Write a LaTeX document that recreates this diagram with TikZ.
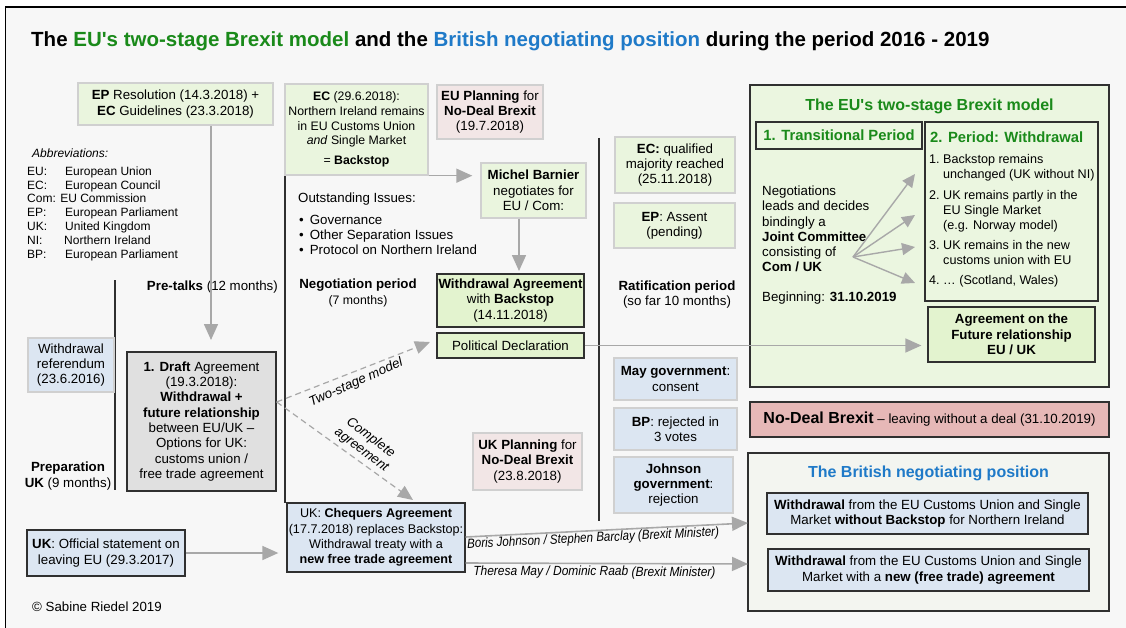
\documentclass[tikz,border=0pt]{standalone}
\usepackage{fontspec}
\setmainfont{Liberation Sans}
\usepackage{graphicx}
\usetikzlibrary{arrows.meta,calc}
\definecolor{bg}{HTML}{F7F7F7}
\definecolor{lgreen}{HTML}{EAF5DE}
\definecolor{mgreen}{HTML}{E3F3CF}
\definecolor{eugreen}{HTML}{EBF6E0}
\definecolor{lborder}{HTML}{D0D0D0}
\definecolor{dborder}{HTML}{303030}
\definecolor{lpink}{HTML}{F2E6E6}
\definecolor{nodeal}{HTML}{E6B8B7}
\definecolor{lblue}{HTML}{DCE6F2}
\definecolor{draftgray}{HTML}{E0E0E0}
\definecolor{tgreen}{HTML}{1A8A1A}
\definecolor{tblue}{HTML}{1F7AC8}
\definecolor{agray}{HTML}{A8A8A8}
\definecolor{ukbg}{HTML}{F3F5F0}
\newcommand{\bodyf}{\fontsize{13.3}{15.3}\selectfont}
\newcommand{\smallf}{\fontsize{12.3}{14.8}\selectfont}
\newcommand{\abbf}{\fontsize{12}{13.8}\selectfont}
\tikzset{
  base/.style={font=\bodyf, align=center, inner sep=0pt},
  lbox/.style={base, draw=lborder, line width=1.4pt},
  dbox/.style={base, draw=dborder, line width=1.3pt},
  arr/.style={draw=agray, line width=1.6pt, -{Triangle[length=16pt,width=14pt]}},
  arrs/.style={draw=agray, line width=1.4pt, -{Triangle[length=13pt,width=12pt]}},
  darr/.style={draw=agray, line width=1.2pt, dash pattern=on 6pt off 4pt, -{Triangle[length=15pt,width=13pt]}},
  sepline/.style={draw=dborder, line width=1.4pt},
  plain/.style={font=\bodyf, inner sep=0pt},
}
\begin{document}
\begin{tikzpicture}[x=1pt,y=-1pt]
\useasboundingbox (0,0) rectangle (1126,628);
\fill[white] (0,0) rectangle (1126,628);
\begin{scope}
\clip (0,0) rectangle (1126,628);
\draw[line width=1.5pt, fill=bg] (5.5,7) rectangle (1140,640);
\end{scope}

% title
\node[anchor=base west, inner sep=0pt, font=\fontsize{20.5}{24}\selectfont\bfseries] (title) at (31,47)
  {The \textcolor{tgreen}{EU\textquotesingle s two-stage Brexit model} and the \textcolor{tblue}{British negotiating position} during the period 2016 - 2019};

% separators
\draw[sepline] (115,280) -- (115,490);
\draw[sepline] (285,175) -- (285,503);
\draw[sepline] (599,138) -- (599,521);

% left column
\node[lbox, fill=lgreen, minimum width=195pt, minimum height=42pt] (epres) at (175.5,104)
  {\textbf{EP} Resolution (14.3.2018) +\\\textbf{EC} Guidelines (23.3.2018)};
\node[plain, anchor=west, font=\abbf\itshape] (abbt) at (32,153) {Abbreviations:};
\node[plain, anchor=west, font=\abbf, align=left] (abbl) at (27,213.5)
  {\makebox[38pt][l]{EU:}European Union\\
   \makebox[38pt][l]{EC:}European Council\\
   Com: EU Commission\\
   \makebox[38pt][l]{EP:}European Parliament\\
   \makebox[38pt][l]{UK:}United Kingdom\\
   \makebox[37pt][l]{NI:}Northern Ireland\\
   \makebox[38pt][l]{BP:}European Parliament};
\node[plain, anchor=base east] (pretalks) at (278,290) {\textbf{Pre-talks} (12 months)};
\node[lbox, fill=lblue, minimum width=86pt, minimum height=54pt] (ref) at (71,365)
  {Withdrawal\\referendum\\(23.6.2016)};
\node[dbox, fill=draftgray, minimum width=149pt, minimum height=139pt] (draft) at (201.5,421.5)
  {\textbf{1. Draft} Agreement\\(19.3.2018):\\\textbf{Withdrawal +}\\\textbf{future relationship}\\between EU/UK –\\Options for UK:\\customs union /\\free trade agreement};
\node[base] (prep) at (68,476) {\textbf{Preparation}\\\textbf{UK} (9 months)};
\node[dbox, fill=lblue, minimum width=158pt, minimum height=46pt] (ukstate) at (106,553)
  {\textbf{UK}: Official statement on\\leaving EU (29.3.2017)};
\node[plain, anchor=west] (copy) at (32,607) {© Sabine Riedel 2019};

% negotiation column
\node[lbox, fill=lgreen, minimum width=143pt, minimum height=91pt, font=\smallf] (ec) at (356.5,129.5)
  {\textbf{EC} (29.6.2018):\\Northern Ireland remains\\in EU Customs Union\\\textit{and} Single Market\\[5pt]= \textbf{Backstop}};
\node[lbox, fill=lpink, minimum width=106pt, minimum height=54pt] (euplan) at (490,112)
  {\textbf{EU Planning} for\\\textbf{No-Deal Brexit}\\(19.7.2018)};
\node[lbox, fill=lgreen, minimum width=105pt, minimum height=55pt] (barnier) at (533.5,190.5)
  {\textbf{Michel Barnier}\\negotiates for\\EU / Com:};
\node[plain, anchor=west] (outst) at (298,199) {Outstanding Issues:};
\node[plain, anchor=west, align=left] (issues) at (299,235)
  {\textbullet\hspace{6pt}Governance\\\textbullet\hspace{6pt}Other Separation Issues\\\textbullet\hspace{6pt}Protocol on Northern Ireland};
\node[base] (negp) at (358,293) {\textbf{Negotiation period}\\{\smallf(7 months)}};
\node[dbox, fill=mgreen, minimum width=147pt, minimum height=53pt] (wa) at (510.5,300.5)
  {\textbf{Withdrawal Agreement}\\with \textbf{Backstop}\\(14.11.2018)};
\node[dbox, fill=mgreen, minimum width=147pt, minimum height=25pt] (pd) at (510.5,345.5)
  {Political Declaration};
\node[lbox, fill=lpink, minimum width=109pt, minimum height=57pt] (ukplan) at (527.5,461.5)
  {\textbf{UK Planning} for\\\textbf{No-Deal Brexit}\\(23.8.2018)};
\node[dbox, fill=lblue, minimum width=178pt, minimum height=69pt, font=\fontsize{12.6}{15.3}\selectfont] (chequers) at (376,537.5)
  {UK: \textbf{Chequers Agreement}\\(17.7.2018) replaces Backstop:\\Withdrawal treaty with a\\\textbf{new free trade agreement}};

% ratification column
\node[lbox, fill=lgreen, minimum width=120pt, minimum height=56pt] (ecq) at (675,165)
  {\textbf{EC:} qualified\\majority reached\\(25.11.2018)};
\node[lbox, fill=lgreen, minimum width=121pt, minimum height=45pt] (epa) at (674.5,225.5)
  {\textbf{EP}: Assent\\(pending)};
\node[base] (ratp) at (677,294.5) {\textbf{Ratification period}\\(so far 10 months)};
\node[lbox, fill=lblue, minimum width=123pt, minimum height=42pt] (may) at (675.5,379)
  {\textbf{May government}:\\consent};
\node[lbox, fill=lblue, minimum width=123pt, minimum height=42pt] (bp) at (675.5,429)
  {\textbf{BP}: rejected in\\3 votes};
\node[lbox, fill=lblue, minimum width=119pt, minimum height=56pt] (johnson) at (673.5,485)
  {\textbf{Johnson}\\\textbf{government}:\\rejection};

% EU model
\node[dbox, fill=eugreen, minimum width=359pt, minimum height=302pt] (eumodel) at (929.5,236) {};
\node[plain, font=\fontsize{16}{19}\selectfont\bfseries, text=tgreen] (eutitle) at (929.5,106)
  {The EU\textquotesingle s two-stage Brexit model};
\node[dbox, fill=eugreen, minimum width=166pt, minimum height=27pt, font=\fontsize{14.8}{17}\selectfont\bfseries, text=tgreen] (trans) at (839,135.5)
  {1. Transitional Period};
\node[dbox, fill=eugreen, minimum width=173pt, minimum height=179pt] (withdr) at (1011.5,211.5) {};
\node[plain, anchor=west, font=\fontsize{14.8}{17}\selectfont\bfseries, text=tgreen] (withdrt) at (930,137)
  {2. Period: Withdrawal};
\node[plain, anchor=west, font=\fontsize{12.6}{15}\selectfont] (wlist) at (929,221)
  {\begin{tabular}{@{}l@{\hspace{3.5pt}}l@{}}
   1. & Backstop remains\\
      & unchanged (UK without NI)\\[5.5pt]
   2. & UK remains partly in the\\
      & EU Single Market\\
      & (e.g. Norway model)\\[5pt]
   3. & UK remains in the new\\
      & customs union with EU\\[5pt]
   4. & … (Scotland, Wales)
   \end{tabular}};
\node[plain, anchor=west, align=left] (jc) at (762,229)
  {Negotiations\\leads and decides\\bindingly a\\\textbf{Joint Committee}\\consisting of\\\textbf{Com / UK}};
\node[plain, anchor=west] (begin) at (762,298) {Beginning: \textbf{31.10.2019}};
\node[dbox, fill=mgreen, minimum width=167pt, minimum height=55pt, font=\bodyf\bfseries] (afr) at (1011.5,334.5)
  {Agreement on the\\Future relationship\\EU / UK};

% no deal
\node[dbox, fill=nodeal, minimum width=359pt, minimum height=35pt] (nodealb) at (929.5,419.5)
  {{\fontsize{16}{18}\selectfont\textbf{No-Deal Brexit}} – leaving without a deal (31.10.2019)};

% British position
\node[dbox, fill=ukbg, minimum width=361pt, minimum height=158pt] (ukpos) at (928.5,532) {};
\node[plain, font=\fontsize{16}{19}\selectfont\bfseries, text=tblue] (uktitle) at (928.5,473)
  {The British negotiating position};
\node[dbox, fill=lblue, minimum width=321pt, minimum height=41pt] (pos1) at (927.5,513.5)
  {\textbf{Withdrawal} from the EU Customs Union and Single\\Market \textbf{without Backstop} for Northern Ireland};
\node[dbox, fill=lblue, minimum width=321pt, minimum height=42pt] (pos2) at (928.5,570)
  {\textbf{Withdrawal} from the EU Customs Union and Single\\Market with a \textbf{new (free trade) agreement}};

% connectors
\coordinate (pretip) at (211,340);
\draw[arr] (epres.south -| pretip) -- (pretip);
\draw[arr] (ec.south east) -- ($(ec.south east -| barnier.west)+(-8,0)$);
\coordinate (bartip) at (519,271);
\draw[arr] (barnier.south -| bartip) -- (bartip);
\draw[arr] (pd.east) -- ($(pd.east -| afr.west)+(-6,0)$);
\coordinate (jcs) at (853,257);
\coordinate (jt1) at (915,174);
\coordinate (jt2) at (915,215);
\coordinate (jt3) at (915,247);
\coordinate (jt4) at (915,283);
\foreach \t in {jt1,jt2,jt3,jt4} \draw[arrs] (jcs) -- (\t);
\draw[arr] (ukstate.east) -- ($(ukstate.east -| chequers.west)+(-8,0)$);

\coordinate (dy) at (0,402);
\coordinate (dstart) at (draft.east |- dy);
\coordinate (dtip1) at (430,342);
\coordinate (dtip2) at (413,500);
\draw[darr] (dstart) -- (dtip1);
\draw[darr] (dstart) -- (dtip2);
\node[plain, rotate=24, font=\bodyf\itshape] (twostage) at (356,383) {Two-stage model};
\node[base, rotate=-37, font=\bodyf\itshape] (complete) at (366,444) {Complete\\agreement};

\coordinate (bstart) at ($(chequers.east)+(0,-0.5)$);
\coordinate (btip) at (748,523);
\coordinate (tstart) at ($(chequers.east)+(0,25.5)$);
\coordinate (ttip) at (748,564);
\draw[arr] (bstart) -- node[pos=0.45, sloped, below=1pt, font=\bodyf\itshape, inner sep=0pt]
  {\scalebox{0.87}[1]{Boris Johnson / Stephen Barclay (Brexit Minister)}} (btip);
\draw[arr] (tstart) -- node[pos=0.456, sloped, below=2pt, font=\bodyf\itshape, inner sep=0pt]
  {\scalebox{0.9}[1]{Theresa May / Dominic Raab (Brexit Minister)}} (ttip);
\end{tikzpicture}
\end{document}
